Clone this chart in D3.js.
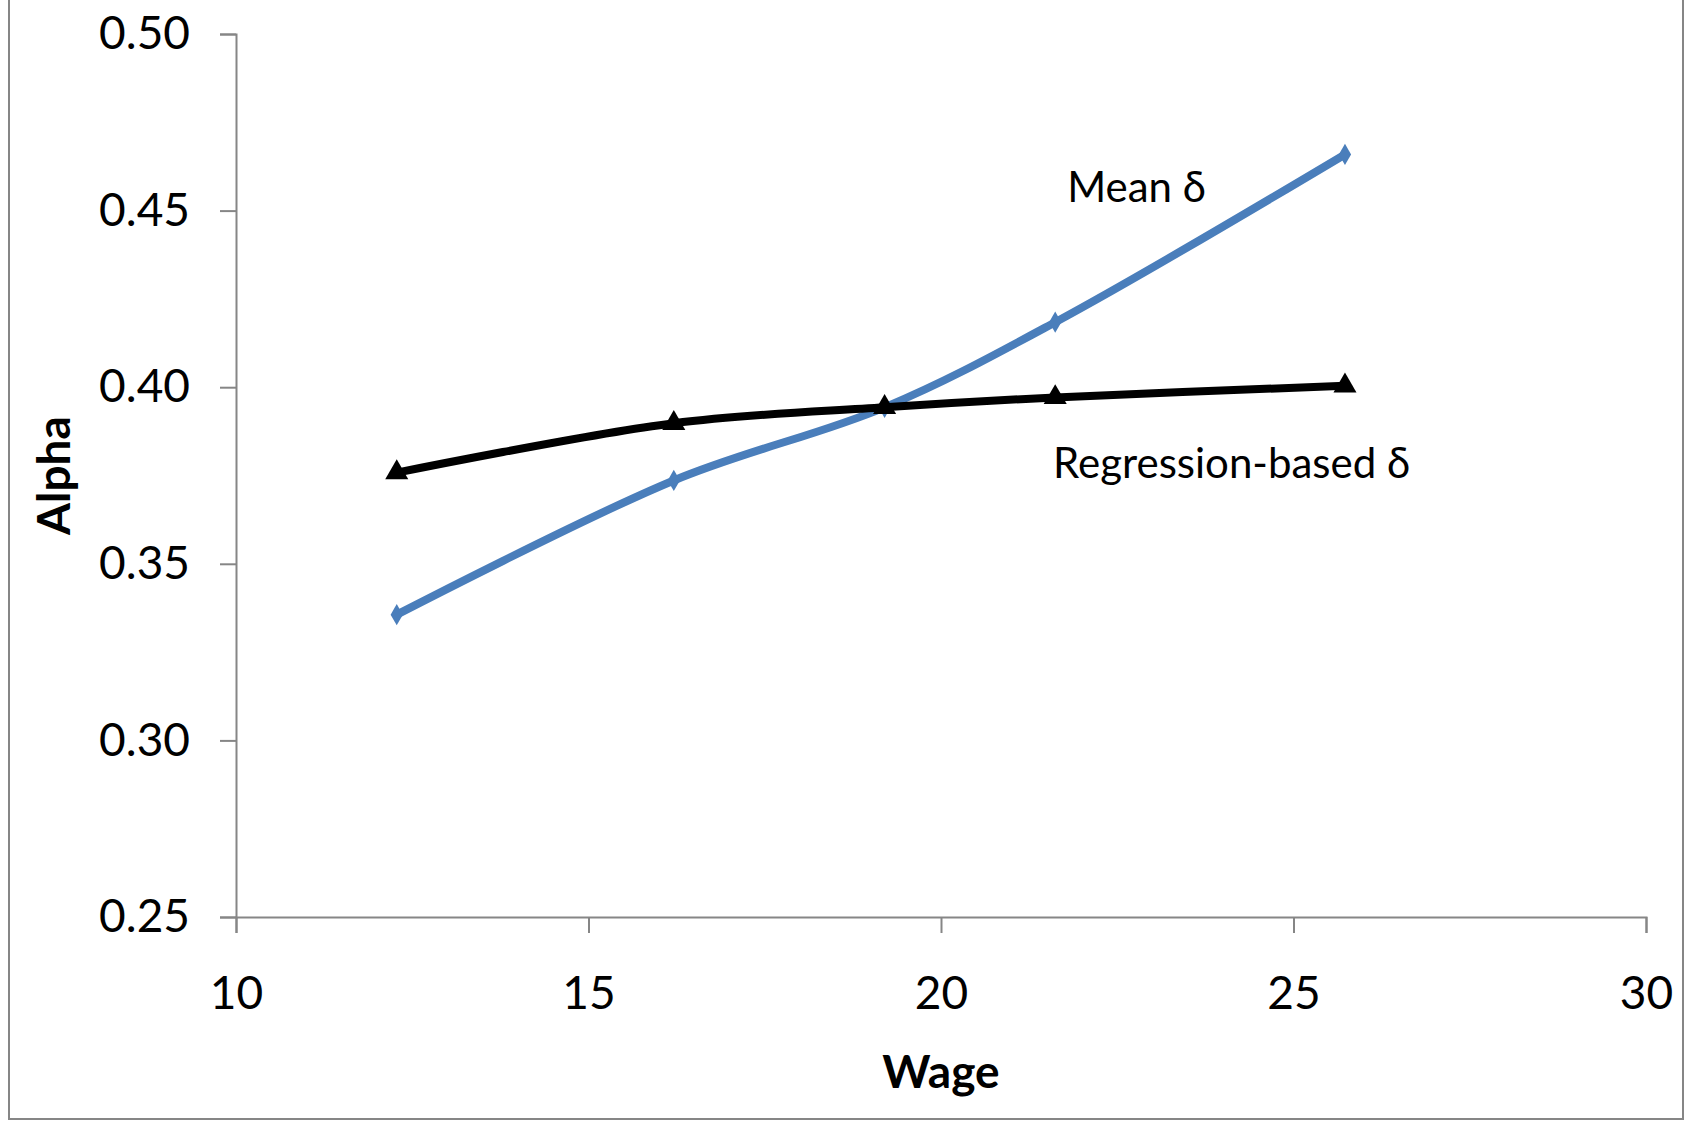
<!DOCTYPE html>
<html>
<head>
<meta charset="utf-8">
<script src="https://cdn.jsdelivr.net/npm/d3@7"></script>
<style>
  body { margin: 0; background: #fff; }
  text { font-family: Lato, "Open Sans", sans-serif; fill: #000; }
</style>
</head>
<body>
<script>
// values
var wage = [12.28, 16.21, 19.20, 21.62, 25.73];
var meanDelta = [0.3356, 0.3736, 0.3943, 0.4184, 0.4659];
var regDelta = [0.3758, 0.3898, 0.3943, 0.3971, 0.4004];
var xTicks = [10, 15, 20, 25, 30];
var yTicks = [0.25, 0.30, 0.35, 0.40, 0.45, 0.50];
var seriesNames = ["Mean δ", "Regression-based δ"];
var labelAt = [[21.79, 0.4524], [21.59, 0.3743]];

var W = 1685, H = 1122;
var svg = d3.select("body").append("svg")
	.attr("width", W)
	.attr("height", H);

// chart border
svg.append("rect")
	.attr("x", 9).attr("y", -5)
	.attr("width", 1674).attr("height", 1124)
	.attr("fill", "none")
	.attr("stroke", "#868686")
	.attr("stroke-width", 2);

var x = d3.scaleLinear().domain([10, 30]).range([236, 1646]);
var y = d3.scaleLinear().domain([0.25, 0.50]).range([917, 34]);

var xAxis = svg.append("g")
	.attr("transform", "translate(0," + y(0.25) + ")")
	.call(d3.axisBottom(x).tickValues(xTicks).tickSize(16).tickPadding(43).tickFormat(d3.format("d")));

var yAxis = svg.append("g")
	.attr("transform", "translate(" + x(10) + ",0)")
	.call(d3.axisLeft(y).tickValues(yTicks).tickSize(16).tickPadding(30).tickFormat(d3.format(".2f")));

[xAxis, yAxis].forEach(function(g){
	g.select(".domain").attr("stroke", "#868686").attr("stroke-width", 2);
	g.selectAll(".tick line").attr("stroke", "#868686").attr("stroke-width", 2);
	g.selectAll(".tick text").attr("font-size", 46).attr("fill", "#000")
		.style("font-family", "Lato, sans-serif");
});

// axis titles
svg.append("text")
	.attr("x", x(20))
	.attr("y", 1088)
	.attr("text-anchor", "middle")
	.attr("font-size", 46)
	.attr("font-weight", "bold")
	.text("Wage");

svg.append("text")
	.attr("transform", "translate(70," + y(0.375) + ") rotate(-90)")
	.attr("text-anchor", "middle")
	.attr("font-size", 46)
	.attr("font-weight", "bold")
	.text("Alpha");

var line = d3.line()
	.x(function(d){ return x(d[0]); })
	.y(function(d){ return y(d[1]); })
	.curve(d3.curveCatmullRom.alpha(0.5));

var meanPts = wage.map(function(w, i){ return [w, meanDelta[i]]; });
var regPts = wage.map(function(w, i){ return [w, regDelta[i]]; });

svg.append("path")
	.datum(meanPts)
	.attr("d", line)
	.attr("fill", "none")
	.attr("stroke", "#4a7ebb")
	.attr("stroke-width", 8);

svg.selectAll(".mk-mean")
	.data(meanPts)
	.enter().append("path")
	.attr("class", "mk-mean")
	.attr("transform", function(d){ return "translate(" + x(d[0]) + "," + y(d[1]) + ")"; })
	.attr("d", d3.symbol().type(d3.symbolDiamond).size(130))
	.attr("fill", "#4a7ebb");

svg.append("path")
	.datum(regPts)
	.attr("d", line)
	.attr("fill", "none")
	.attr("stroke", "#000")
	.attr("stroke-width", 8);

svg.selectAll(".mk-reg")
	.data(regPts)
	.enter().append("path")
	.attr("class", "mk-reg")
	.attr("transform", function(d){ return "translate(" + x(d[0]) + "," + y(d[1]) + ")"; })
	.attr("d", d3.symbol().type(d3.symbolTriangle).size(230))
	.attr("fill", "#000");

// series labels
svg.selectAll(".series-label")
	.data(seriesNames)
	.enter().append("text")
	.attr("class", "series-label")
	.attr("x", function(d, i){ return x(labelAt[i][0]); })
	.attr("y", function(d, i){ return y(labelAt[i][1]); })
	.attr("font-size", 42)
	.text(function(d){ return d; });
</script>
</body>
</html>
